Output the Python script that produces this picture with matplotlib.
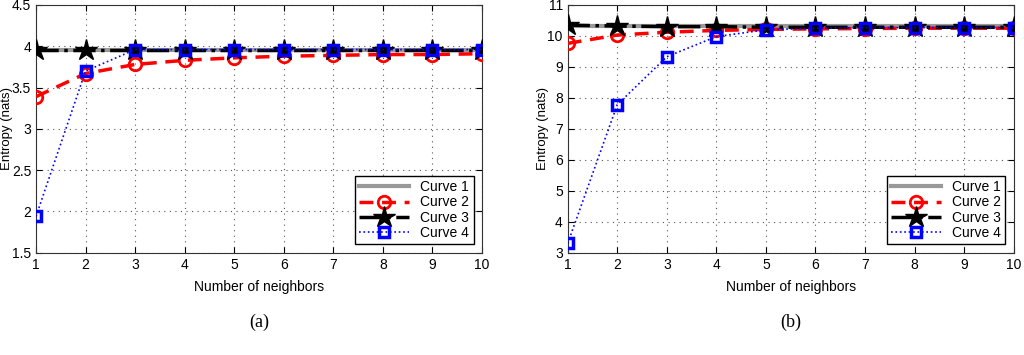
import numpy as np
import matplotlib.pyplot as plt

plt.rcParams['font.family'] = ['Liberation Sans', 'DejaVu Sans']

# --- data ---
neighbors = [1, 2, 3, 4, 5, 6, 7, 8, 9, 10]
labels = ['Curve 1', 'Curve 2', 'Curve 3', 'Curve 4']

a_curve1 = [3.96] * 10
a_curve2 = [3.39, 3.67, 3.78, 3.83, 3.86, 3.88, 3.89, 3.90, 3.90, 3.91]
a_curve3 = [3.96] * 10
a_curve4 = [1.94, 3.70, 3.96, 3.96, 3.96, 3.96, 3.96, 3.96, 3.96, 3.96]

b_curve1 = [10.33] * 10
b_curve2 = [9.76, 10.03, 10.12, 10.18, 10.21, 10.23, 10.24, 10.25, 10.25, 10.25]
b_curve3 = [10.35, 10.32, 10.30, 10.30, 10.28, 10.28, 10.28, 10.28, 10.28, 10.28]
b_curve4 = [3.30, 7.78, 9.33, 9.98, 10.20, 10.25, 10.27, 10.27, 10.27, 10.27]


def draw(ax, c1, c2, c3, c4, ylim, yticks, ytl, tag, ylab_x):
    ax.plot(neighbors, c1, '-', color='#999999', lw=3, label=labels[0], zorder=2)
    ax.plot(neighbors, c2, '--', color='red', lw=2.5, marker='o', ms=9,
            mfc='none', mec='red', mew=2, dashes=(4, 2.5), label=labels[1], zorder=3)
    ax.plot(neighbors, c3, '-.', color='black', lw=2.5, marker='*', ms=16,
            mfc='black', mec='black', label=labels[2], zorder=4)
    ax.plot(neighbors, c4, ':', color='blue', lw=1.2, marker='s', ms=7,
            mfc='none', mec='blue', mew=2.5, label=labels[3], zorder=5)
    ax.set_xlim(1, 10)
    ax.set_ylim(*ylim)
    ax.set_xticks(neighbors)
    ax.set_yticks(yticks)
    ax.set_yticklabels(ytl)
    ax.grid(True, linestyle=(0, (1, 4)), color='#555555', lw=0.8)
    ax.tick_params(direction='in', top=True, right=True, labelsize=10, length=4)
    for s in ax.spines.values():
        s.set_color('#333333')
    ax.set_xlabel('Number of neighbors', fontsize=10, labelpad=6)
    ax.set_ylabel('Entropy (nats)', fontsize=9.5)
    ax.yaxis.set_label_coords(ylab_x, 0.5)
    leg = ax.legend(loc='lower right', fontsize=10, fancybox=False, framealpha=1,
                    edgecolor='black', handlelength=3.6, borderpad=0.3,
                    labelspacing=0.1, borderaxespad=0.6)
    leg.get_frame().set_linewidth(1)
    ax.text(0.5, -0.28, tag, transform=ax.transAxes, ha='center', va='center',
            fontsize=13, family='Liberation Serif')


fig = plt.figure(figsize=(10.24, 3.55), dpi=100)
ax1 = fig.add_axes([36 / 1024, 1 - 252.7 / 355, 446 / 1024, 247.7 / 355])
ax2 = fig.add_axes([567.7 / 1024, 1 - 252.7 / 355, 446 / 1024, 247.7 / 355])

draw(ax1, a_curve1, a_curve2, a_curve3, a_curve4, (1.5, 4.5),
     [1.5, 2, 2.5, 3, 3.5, 4, 4.5], ['1.5', '2', '2.5', '3', '3.5', '4', '4.5'], '(a)', -0.052)
draw(ax2, b_curve1, b_curve2, b_curve3, b_curve4, (3, 11),
     list(range(3, 12)), [str(v) for v in range(3, 12)], '(b)', -0.042)

fig.savefig('out.png', dpi=100)
